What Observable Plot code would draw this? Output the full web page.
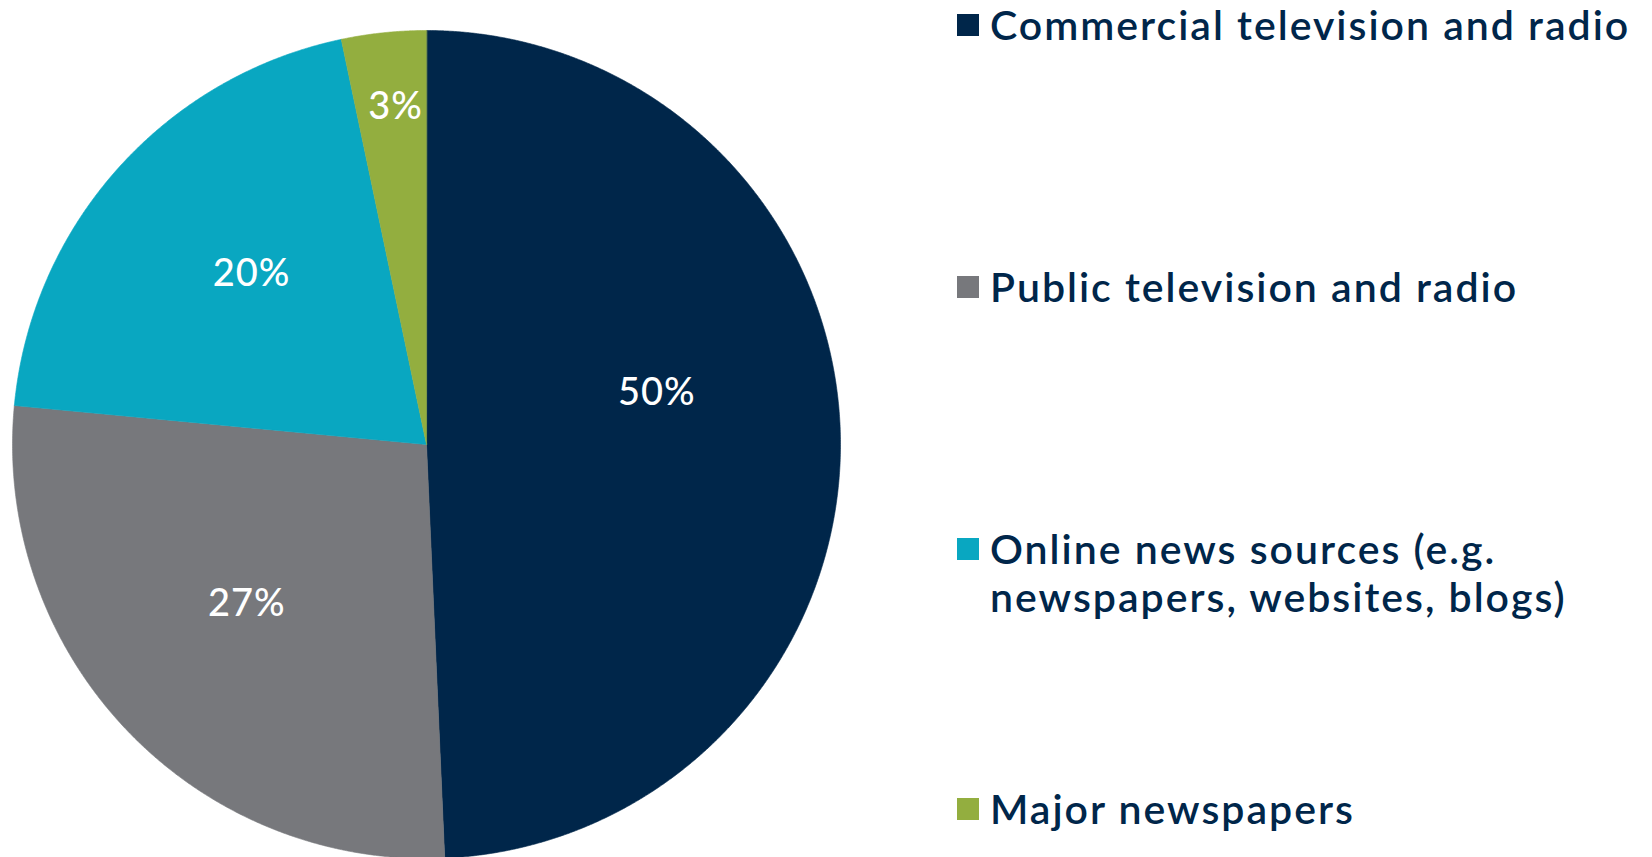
<!DOCTYPE html>
<html><head><meta charset="utf-8">
<script src="https://cdn.jsdelivr.net/npm/d3@7"></script>
<script src="https://cdn.jsdelivr.net/npm/@observablehq/plot@0.6"></script>
<style>
html,body{margin:0;padding:0;background:#fff}
body{width:1652px;height:857px;overflow:hidden;position:relative;font-family:Lato,"Open Sans",sans-serif}
#chart{position:absolute;left:0;top:0}
#legend{position:absolute;left:957px;top:0;width:695px;height:857px}
.item{position:absolute;left:0;}
.sw{position:absolute;left:0;top:13px;width:22px;height:22px}
.lab{position:absolute;left:33px;top:0;white-space:pre;font-size:41px;line-height:48px;font-weight:600;color:#00264a;letter-spacing:2px}
#chart svg text{letter-spacing:1px}
</style>
</head><body>
<div id="chart"></div>
<div id="legend"></div>
<script>
// ---- data ----
const categories = ["Commercial television and radio", "Public television and radio", "Online news sources (e.g.\nnewspapers, websites, blogs)", "Major newspapers"];
const values = [49.3, 27.2, 20.2, 3.3];
const valueLabels = ["50%", "27%", "20%", "3%"];
const colors = ["#00264a", "#77787c", "#09a7c1", "#93ae3f"];

// ---- layout (styling only) ----
const W = 852, H = 857, CX = 426, CY = 444, R = 414;
const labelPlace = [{r: 0.57, turn: -11.3}, {r: 0.58, turn: 2}, {r: 0.59, turn: 2.5}, {r: 0.82, turn: 0.7}];
const legendTops = [25, 287, 549, 809];

const pie = d3.pie().sort(null).value(d => d)(values);
const rows = [];
pie.forEach((p, i) => {
  rows.push({cat: categories[i], x: 0, y: 0});
  const n = Math.max(8, Math.ceil((p.endAngle - p.startAngle) / 0.004));
  for (let k = 0; k <= n; k++) {
    const a = p.startAngle + (p.endAngle - p.startAngle) * k / n;
    rows.push({cat: categories[i], x: Math.sin(a), y: Math.cos(a)});
  }
});
const labelRows = pie.map((p, i) => {
  const a = (p.startAngle + p.endAngle) / 2 + labelPlace[i].turn * Math.PI / 180;
  const r = labelPlace[i].r;
  return {text: valueLabels[i], x: r * Math.sin(a), y: r * Math.cos(a)};
});

const chart = Plot.plot({
  width: W, height: H,
  margin: 0,
  x: {domain: [-CX / R, (W - CX) / R], axis: null},
  y: {domain: [-(H - CY) / R, CY / R], axis: null},
  color: {domain: categories, range: colors},
  style: {background: "transparent", overflow: "visible"},
  marks: [
    Plot.line(rows, {x: "x", y: "y", z: "cat", fill: "cat", stroke: "cat", strokeWidth: 0.6, curve: "linear-closed"}),
    Plot.text(labelRows, {x: "x", y: "y", text: "text", fill: "white", fontSize: 38, fontWeight: 500, fontFamily: "Lato, 'Open Sans', sans-serif", textAnchor: "middle"})
  ]
});
document.getElementById("chart").appendChild(chart);

const legend = document.getElementById("legend");
categories.forEach((c, i) => {
  const it = document.createElement("div");
  it.className = "item";
  it.style.top = (legendTops[i] - 24) + "px";
  const sw = document.createElement("div");
  sw.className = "sw"; sw.style.background = colors[i];
  const lb = document.createElement("div");
  lb.className = "lab"; lb.textContent = c;
  it.appendChild(sw); it.appendChild(lb);
  legend.appendChild(it);
});
</script>
</body></html>
